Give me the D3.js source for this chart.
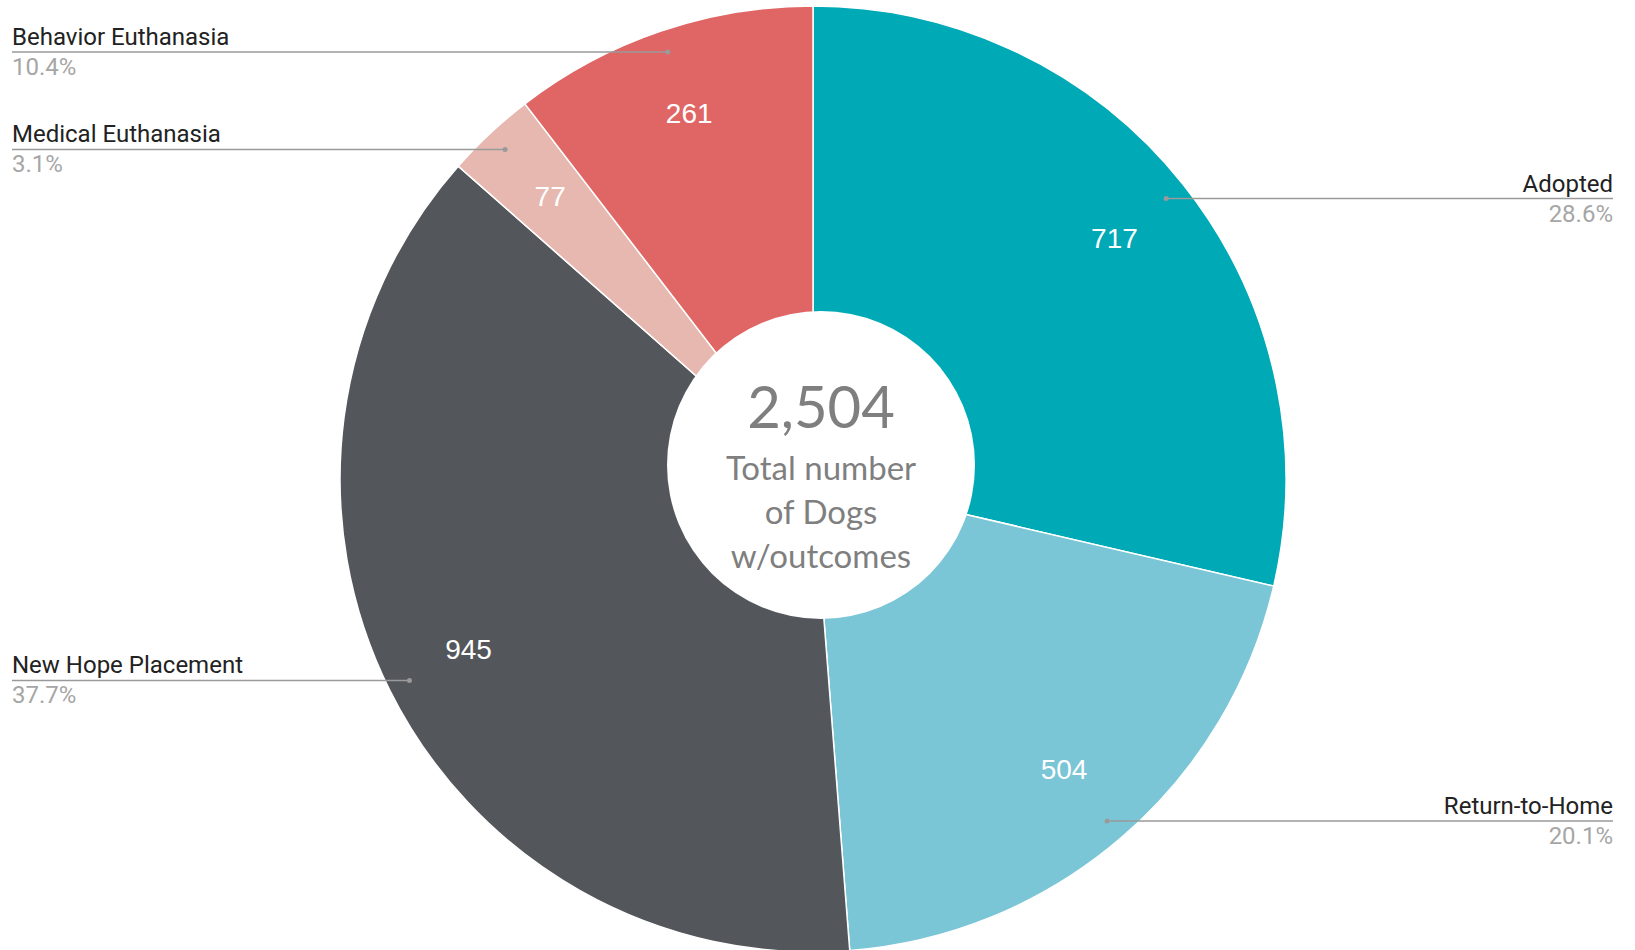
<!DOCTYPE html>
<html>
<head>
<meta charset="utf-8">
<script src="https://cdn.jsdelivr.net/npm/d3@7"></script>
<style>
  html, body { margin: 0; padding: 0; background: #fff; }
  svg { display: block; }
</style>
</head>
<body>
<div class="main-container"></div>
<script>
// chart data
const categories = ["Adopted", "Return-to-Home", "New Hope Placement", "Medical Euthanasia", "Behavior Euthanasia"];
const counts = [717, 504, 945, 77, 261];
const percentLabels = ["28.6%", "20.1%", "37.7%", "3.1%", "10.4%"];
const colors = ["#00a9b6", "#7ac5d6", "#53565b", "#e6b8b0", "#e06666"];
const totalLabel = "2,504";
const centerLines = ["Total number", "of Dogs", "w/outcomes"];

const width = 1635;
const height = 950;
const cx = 813, cy = 479;
const radius = 473;

const svg = d3.select(".main-container")
    .append("svg")
    .attr("width", width)
    .attr("height", height);

const g = svg.append("g")
    .attr("transform", "translate(" + cx + "," + cy + ")");

const pie = d3.pie().sort(null).value(d => d.value);
const arcs = pie(categories.map((c, i) => ({ name: c, value: counts[i], pct: percentLabels[i], color: colors[i] })));

const arc = d3.arc().innerRadius(0).outerRadius(radius);
const valueArc = d3.arc().innerRadius(385).outerRadius(385);
const dotArc = d3.arc().innerRadius(451).outerRadius(451);

g.selectAll("path.slice")
    .data(arcs)
    .enter()
    .append("path")
    .attr("class", "slice")
    .attr("d", arc)
    .style("fill", d => d.data.color)
    .style("stroke", "#fff")
    .style("stroke-width", 1.5);

// numbers inside the slices
g.selectAll("text.value")
    .data(arcs)
    .enter()
    .append("text")
    .attr("class", "value")
    .attr("transform", d => "translate(" + valueArc.centroid(d) + ")")
    .attr("text-anchor", "middle")
    .attr("dy", "0.3em")
    .style("font-family", "'Liberation Sans', Arial, sans-serif")
    .style("font-size", "28px")
    .style("fill", "#fff")
    .text(d => d.data.value);

// leader lines + labels
const leftX = 12 - cx;
const rightX = 1613 - cx;

const labels = g.selectAll("g.label")
    .data(arcs)
    .enter()
    .append("g")
    .attr("class", "label");

labels.each(function(d) {
    const sel = d3.select(this);
    const p = dotArc.centroid(d);
    const isRight = p[0] > 0;
    const endX = isRight ? rightX : leftX;
    sel.append("line")
        .attr("x1", p[0]).attr("y1", p[1])
        .attr("x2", endX).attr("y2", p[1])
        .style("stroke", "#9a9a9a")
        .style("stroke-width", 1.5);
    sel.append("circle")
        .attr("cx", p[0]).attr("cy", p[1]).attr("r", 2.5)
        .style("fill", "#9a9a9a");
    sel.append("text")
        .attr("x", endX).attr("y", p[1] - 7)
        .attr("text-anchor", isRight ? "end" : "start")
        .style("font-family", "Roboto, sans-serif")
        .style("font-size", "24px")
        .style("fill", "#222")
        .text(d.data.name);
    sel.append("text")
        .attr("x", endX).attr("y", p[1] + 23)
        .attr("text-anchor", isRight ? "end" : "start")
        .style("font-family", "Roboto, sans-serif")
        .style("font-size", "24px")
        .style("fill", "#a6a6a6")
        .text(d.data.pct);
});

// center badge
const badge = svg.append("g").attr("transform", "translate(821,465)");
badge.append("circle").attr("r", 154).style("fill", "#fff");
badge.append("text")
    .attr("y", -37)
    .attr("text-anchor", "middle")
    .style("font-family", "Lato, sans-serif")
    .style("font-size", "58px")
    .style("fill", "#7f7f7f")
    .text(totalLabel);
badge.selectAll("text.sub")
    .data(centerLines)
    .enter()
    .append("text")
    .attr("class", "sub")
    .attr("y", (d, i) => 15 + i * 44)
    .attr("text-anchor", "middle")
    .style("font-family", "Lato, sans-serif")
    .style("font-size", "33px")
    .style("fill", "#7f7f7f")
    .text(d => d);
</script>
</body>
</html>
